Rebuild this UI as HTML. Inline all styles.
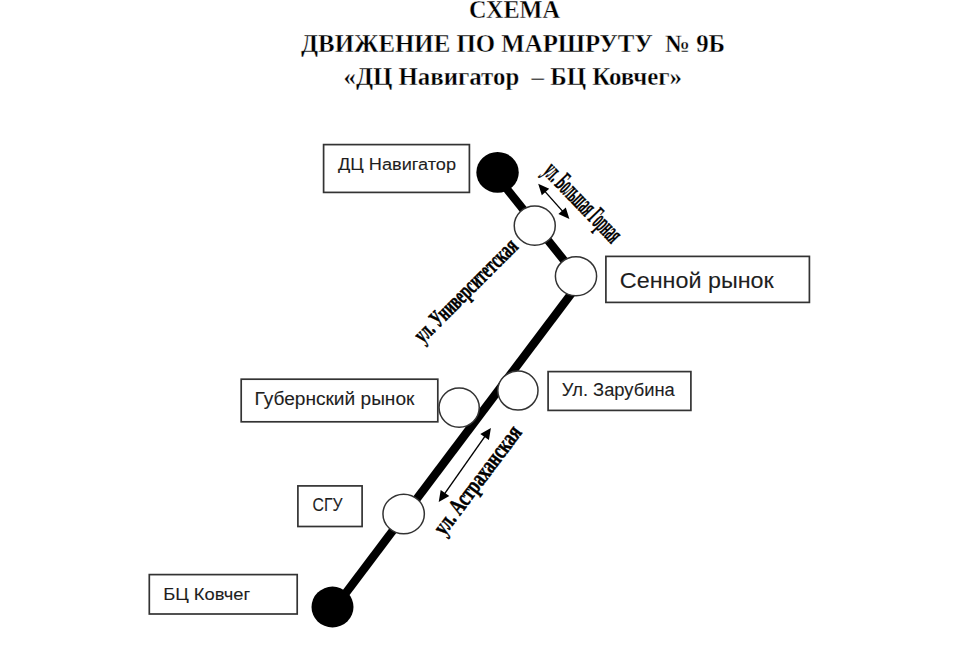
<!DOCTYPE html>
<html><head><meta charset="utf-8">
<style>
html,body{margin:0;padding:0;background:#fff;width:980px;height:653px;overflow:hidden}
svg{display:block;position:absolute;left:0;top:0}
text{white-space:pre}
.t{font-family:"Liberation Serif",serif;font-weight:bold;font-size:25px;fill:#000;stroke:#fff;stroke-width:0.35}
.s{font-family:"Liberation Sans",sans-serif;fill:#1e1e1e;stroke:#1e1e1e;stroke-width:0.1}
.st{font-family:"Liberation Serif",serif;font-weight:bold;fill:#000;stroke:#000;stroke-width:0.55}
</style></head><body>
<svg xml:space="preserve" width="980" height="653" viewBox="0 0 980 653">

<!-- title -->
<text class="t" x="469" y="18.4" textLength="91" lengthAdjust="spacingAndGlyphs">СХЕМА</text>
<text class="t" x="301" y="51.7" textLength="424" lengthAdjust="spacingAndGlyphs">ДВИЖЕНИЕ ПО МАРШРУТУ  № 9Б</text>
<text class="t" x="343.5" y="85.1" textLength="338.5" lengthAdjust="spacingAndGlyphs">«ДЦ Навигатор  – БЦ Ковчег»</text>

<!-- boxes -->
<g fill="#fff" stroke="#333" stroke-width="1.7">
<rect x="323.6" y="144.6" width="145.8" height="47.8"/>
<rect x="605.9" y="256.4" width="203.5" height="46"/>
<rect x="548.1" y="371.6" width="142.8" height="38.8"/>
<rect x="241.2" y="379.2" width="196.6" height="42.6"/>
<rect x="297.9" y="485.9" width="64.2" height="40.6"/>
<rect x="149.3" y="574.6" width="147.9" height="39.4"/>
</g>
<g class="s">
<text x="338" y="170.4" font-size="16.8" textLength="118" lengthAdjust="spacingAndGlyphs">ДЦ Навигатор</text>
<text x="619.8" y="288" font-size="22.6" textLength="154" lengthAdjust="spacingAndGlyphs">Сенной рынок</text>
<text x="561.8" y="396.4" font-size="17.5" textLength="113" lengthAdjust="spacingAndGlyphs">Ул. Зарубина</text>
<text x="254.6" y="404.6" font-size="18" textLength="159.8" lengthAdjust="spacingAndGlyphs">Губернский рынок</text>
<text x="312.5" y="511.4" font-size="17.5" textLength="30" lengthAdjust="spacingAndGlyphs">СГУ</text>
<text x="163.2" y="599.7" font-size="17.3" textLength="86.9" lengthAdjust="spacingAndGlyphs">БЦ Ковчег</text>
</g>

<!-- route lines -->
<line x1="493.6" y1="172.4" x2="576.7" y2="276.2" stroke="#000" stroke-width="8.3"/>
<line x1="584.6" y1="276" x2="335.3" y2="607" stroke="#000" stroke-width="8.4"/>

<!-- circles -->
<ellipse cx="497.55" cy="172.4" rx="21.2" ry="20.4" fill="#000"/>
<ellipse cx="332.5" cy="607" rx="21" ry="20.4" fill="#000"/>
<g fill="#fff" stroke="#333" stroke-width="1.5">
<ellipse cx="534.75" cy="225.65" rx="20.5" ry="19.65"/>
<ellipse cx="576" cy="276.2" rx="20.6" ry="19.5"/>
<ellipse cx="517.9" cy="390.6" rx="20.1" ry="19.5"/>
<ellipse cx="459.15" cy="407.6" rx="20.1" ry="19.65"/>
<ellipse cx="403.65" cy="514.05" rx="20.7" ry="19.8"/>
</g>

<!-- arrows -->
<g stroke="#000" stroke-width="1.4" fill="none">
<path d="M544.0 190.4L563.6 212.4"/>
<path d="M443.8 494.8L485.8 435.1"/>
</g>
<g fill="#000">
<path d="M538.2 183.8L541.8 195.3L549.2 188.7ZM569.4 219.0L558.4 214.1L565.8 207.5Z"/>
<path d="M438.7 502.0L449.3 496.0L440.7 490.0ZM490.9 427.9L488.9 439.9L480.3 433.9Z"/>
</g>

<!-- street labels -->
<text class="st" font-size="28" transform="translate(542,172.6) rotate(46)" textLength="100" lengthAdjust="spacingAndGlyphs">ул. Большая Горная</text>
<text class="st" font-size="24" transform="translate(423.1,343.9) rotate(-45)" textLength="136" lengthAdjust="spacingAndGlyphs">ул. Университетская</text>
<text class="st" font-size="24" transform="translate(444.4,536.5) rotate(-53)" textLength="130" lengthAdjust="spacingAndGlyphs">ул. Астраханская</text>
</svg>
</body></html>
